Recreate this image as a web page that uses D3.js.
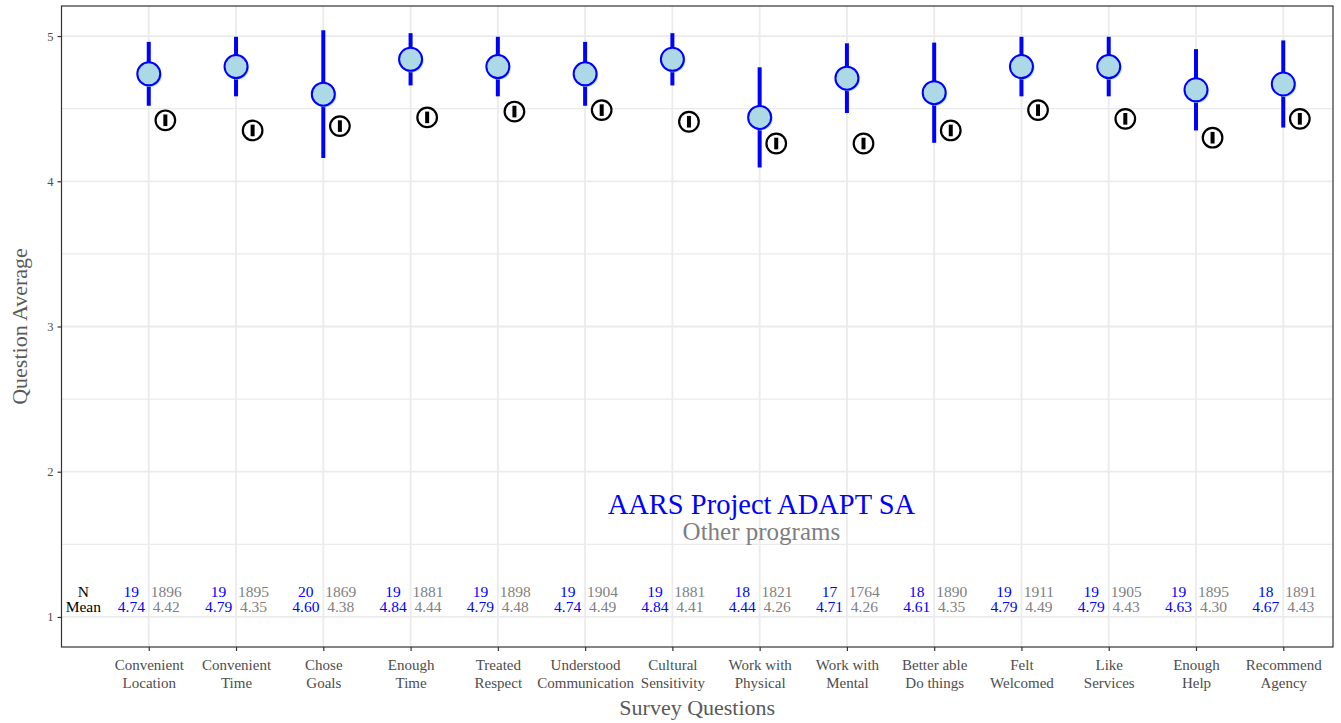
<!DOCTYPE html>
<html>
<head>
<meta charset="utf-8">
<script src="https://cdn.jsdelivr.net/npm/d3@7"></script>
<style>
  html, body { margin: 0; padding: 0; background: #fff; }
  svg { display: block; font-family: "Liberation Serif", "DejaVu Serif", serif; }
</style>
</head>
<body>
<svg id="chart" width="1341" height="723"></svg>
<script>
// Survey question labels (two lines each)
const categories = [
  "Convenient\nLocation", "Convenient\nTime", "Chose\nGoals", "Enough\nTime",
  "Treated\nRespect", "Understood\nCommunication", "Cultural\nSensitivity",
  "Work with\nPhysical", "Work with\nMental", "Better able\nDo things",
  "Felt\nWelcomed", "Like\nServices", "Enough\nHelp", "Recommend\nAgency"
];
// AARS Project ADAPT SA
const projectN    = [19, 19, 20, 19, 19, 19, 19, 18, 17, 18, 19, 19, 19, 18];
const projectMean = [4.74, 4.79, 4.60, 4.84, 4.79, 4.74, 4.84, 4.44, 4.71, 4.61, 4.79, 4.79, 4.63, 4.67];
const projectCI   = [0.22, 0.205, 0.44, 0.18, 0.205, 0.22, 0.18, 0.345, 0.24, 0.345, 0.205, 0.205, 0.28, 0.30];
// Other programs
const otherN    = [1896, 1895, 1869, 1881, 1898, 1904, 1881, 1821, 1764, 1890, 1911, 1905, 1895, 1891];
const otherMean = [4.42, 4.35, 4.38, 4.44, 4.48, 4.49, 4.41, 4.26, 4.26, 4.35, 4.49, 4.43, 4.30, 4.43];
const otherCI   = [0.04, 0.04, 0.04, 0.04, 0.04, 0.04, 0.04, 0.04, 0.04, 0.04, 0.04, 0.04, 0.04, 0.04];
const yTicks = [1, 2, 3, 4, 5];
const yMinor = [1.5, 2.5, 3.5, 4.5];

const svg = d3.select("#chart");
const panel = { left: 61.5, right: 1333, top: 6, bottom: 647 };

const x = d3.scaleLinear().domain([0, 14.57]).range([panel.left, panel.right]);
const y = d3.scaleLinear().domain([0.793, 5.207]).range([panel.bottom, panel.top]);

const idx = categories.map((_, i) => i + 1);
const blue = "#0000ff";
const grey = "#7f7f7f";
const axisGrey = "#4d4d4d";

// grid
const grid = svg.append("g");
grid.selectAll("line.minor").data(yMinor).join("line")
  .attr("x1", panel.left).attr("x2", panel.right)
  .attr("y1", d => y(d)).attr("y2", d => y(d))
  .attr("stroke", "#ebebeb").attr("stroke-width", 1.2);
grid.selectAll("line.major").data(yTicks).join("line")
  .attr("x1", panel.left).attr("x2", panel.right)
  .attr("y1", d => y(d)).attr("y2", d => y(d))
  .attr("stroke", "#ebebeb").attr("stroke-width", 1.8);
grid.selectAll("line.vert").data(idx).join("line")
  .attr("x1", d => x(d)).attr("x2", d => x(d))
  .attr("y1", panel.top).attr("y2", panel.bottom)
  .attr("stroke", "#ebebeb").attr("stroke-width", 1.8);

// project error bars
svg.append("g").selectAll("line").data(idx).join("line")
  .attr("x1", d => x(d)).attr("x2", d => x(d))
  .attr("y1", (d, i) => y(projectMean[i] + projectCI[i]))
  .attr("y2", (d, i) => y(projectMean[i] - projectCI[i]))
  .attr("stroke", blue).attr("stroke-width", 4);

// project points
const pts = svg.append("g");
pts.selectAll("circle.shadow").data(idx).join("circle")
  .attr("cx", d => x(d) + 1.5).attr("cy", (d, i) => y(projectMean[i]) + 1.5)
  .attr("r", 11.5).attr("fill", "#add8e6");
pts.selectAll("circle.main").data(idx).join("circle")
  .attr("cx", d => x(d)).attr("cy", (d, i) => y(projectMean[i]))
  .attr("r", 11.5).attr("fill", "#add8e6")
  .attr("stroke", blue).attr("stroke-width", 2);

// other programs points with error bars
const off = 0.19;
const oth = svg.append("g");
oth.selectAll("circle").data(idx).join("circle")
  .attr("cx", d => x(d + off)).attr("cy", (d, i) => y(otherMean[i]))
  .attr("r", 9.8).attr("fill", "#fff")
  .attr("stroke", "#000").attr("stroke-width", 2.2);
oth.selectAll("line").data(idx).join("line")
  .attr("x1", d => x(d + off)).attr("x2", d => x(d + off))
  .attr("y1", (d, i) => y(otherMean[i] + otherCI[i]))
  .attr("y2", (d, i) => y(otherMean[i] - otherCI[i]))
  .attr("stroke", "#000").attr("stroke-width", 4);

// N / Mean table
const tbl = svg.append("g").attr("font-size", 15.5).attr("text-anchor", "middle");
tbl.append("text").attr("x", x(0.25)).attr("y", 597).attr("fill", "#000").text("N");
tbl.append("text").attr("x", x(0.25)).attr("y", 612).attr("fill", "#000").text("Mean");
tbl.selectAll("text.pn").data(idx).join("text")
  .attr("x", d => x(d - 0.2)).attr("y", 597).attr("fill", blue)
  .text((d, i) => projectN[i]);
tbl.selectAll("text.pm").data(idx).join("text")
  .attr("x", d => x(d - 0.2)).attr("y", 612).attr("fill", blue)
  .text((d, i) => projectMean[i].toFixed(2));
tbl.selectAll("text.on").data(idx).join("text")
  .attr("x", d => x(d + 0.2)).attr("y", 597).attr("fill", grey)
  .text((d, i) => otherN[i]);
tbl.selectAll("text.om").data(idx).join("text")
  .attr("x", d => x(d + 0.2)).attr("y", 612).attr("fill", grey)
  .text((d, i) => otherMean[i].toFixed(2));

// legend labels
svg.append("text").attr("x", x(8.02)).attr("y", 514).attr("text-anchor", "middle")
  .attr("font-size", 28.5).attr("fill", blue).text("AARS Project ADAPT SA");
svg.append("text").attr("x", x(8.02)).attr("y", 540).attr("text-anchor", "middle")
  .attr("font-size", 25).attr("fill", grey).text("Other programs");

// panel border
svg.append("rect")
  .attr("x", panel.left).attr("y", panel.top)
  .attr("width", panel.right - panel.left).attr("height", panel.bottom - panel.top)
  .attr("fill", "none").attr("stroke", "#333").attr("stroke-width", 1.2);

// axes
const yAxis = svg.append("g").attr("transform", `translate(${panel.left},0)`)
  .call(d3.axisLeft(y).tickValues(yTicks).tickSize(4).tickPadding(4).tickFormat(d3.format("d")));
yAxis.select(".domain").remove();
yAxis.selectAll(".tick line").attr("stroke", "#333").attr("stroke-width", 1.2);
yAxis.selectAll(".tick text").attr("fill", axisGrey).attr("font-size", 12.5)
  .attr("font-family", "Liberation Serif, serif");

const xAxis = svg.append("g").attr("transform", `translate(0,${panel.bottom})`)
  .call(d3.axisBottom(x).tickValues(idx).tickSize(4).tickPadding(4).tickFormat(() => ""));
xAxis.select(".domain").remove();
xAxis.selectAll(".tick line").attr("stroke", "#333").attr("stroke-width", 1.2);
xAxis.selectAll(".tick text").remove();
xAxis.selectAll(".tick").each(function (d) {
  const lines = categories[d - 1].split("\n");
  const t = d3.select(this).append("text")
    .attr("text-anchor", "middle").attr("fill", axisGrey)
    .attr("font-size", 15).attr("font-family", "Liberation Serif, serif");
  lines.forEach((s, k) => t.append("tspan").attr("x", 0).attr("y", 23 + k * 18).text(s));
});

// axis titles
svg.append("text").attr("x", (panel.left + panel.right) / 2).attr("y", 715)
  .attr("text-anchor", "middle").attr("font-size", 22).attr("fill", "#595959")
  .text("Survey Questions");
svg.append("text").attr("transform", `translate(27,${(panel.top + panel.bottom) / 2}) rotate(-90)`)
  .attr("text-anchor", "middle").attr("font-size", 22).attr("fill", "#595959")
  .text("Question Average");
</script>
</body>
</html>
